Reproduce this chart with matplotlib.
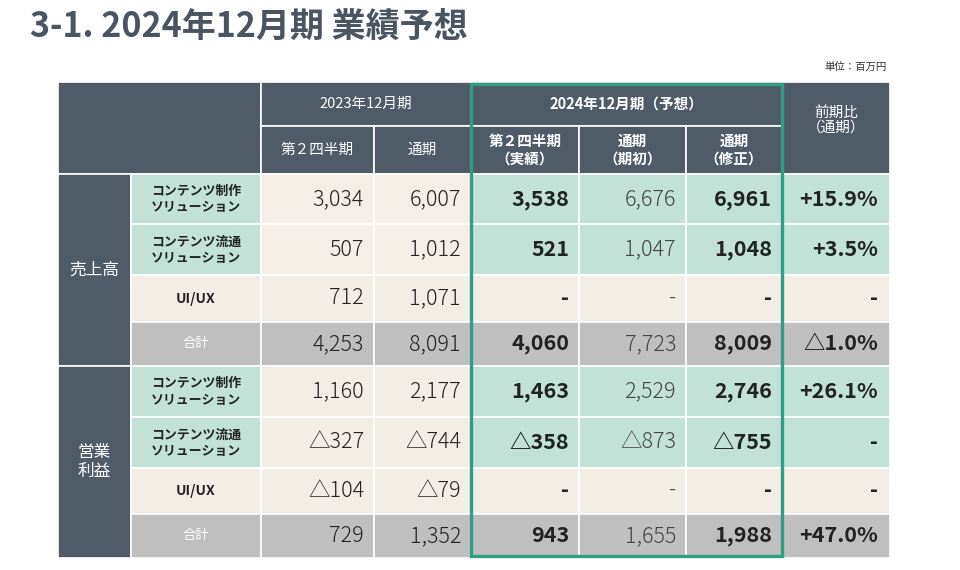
import matplotlib
matplotlib.use("Agg")
import matplotlib.pyplot as plt
from matplotlib.patches import Rectangle

plt.rcParams['font.family'] = ['Noto Sans CJK JP', 'DejaVu Sans']

# --- data (unit: million yen) ---
groups = ["売上高", "営業\n利益"]
segments = ["コンテンツ制作\nソリューション", "コンテンツ流通\nソリューション", "UI/UX", "合計"]
col_headers = ["第２四半期", "通期", "第２四半期\n（実績）", "通期\n（期初）", "通期\n（修正）"]

sales_2023_q2 = [3034, 507, 712, 4253]
sales_2023_fy = [6007, 1012, 1071, 8091]
sales_2024_q2 = [3538, 521, None, 4060]
sales_2024_init = [6676, 1047, None, 7723]
sales_2024_rev = [6961, 1048, None, 8009]
sales_yoy = [15.9, 3.5, None, -1.0]

op_2023_q2 = [1160, -327, -104, 729]
op_2023_fy = [2177, -744, -79, 1352]
op_2024_q2 = [1463, -358, None, 943]
op_2024_init = [2529, -873, None, 1655]
op_2024_rev = [2746, -755, None, 1988]
op_yoy = [26.1, None, None, 47.0]

# --- colours ---
HEAD = "#4f5b67"
GREEN = "#c2e2d8"
BEIGE = "#f3eee5"
PINK = "#f5eee6"
GRAY = "#bfbfbf"
FRAME = "#2f9e85"
TXT = "#222222"


def fmt_num(v):
    if v is None:
        return "-"
    if v < 0:
        return "△{:,}".format(-v)
    return "{:,}".format(v)


def fmt_pct(v):
    if v is None:
        return "-"
    if v < 0:
        return "△{:.1f}%".format(-v)
    return "+{:.1f}%".format(v)


fig = plt.figure(figsize=(9.6, 5.7), dpi=100)
ax = fig.add_axes([0, 0, 1, 1])
ax.set_xlim(0, 960)
ax.set_ylim(570, 0)
ax.axis("off")

# layout (pixels)
xs = [58, 131, 261, 374, 471, 579, 686, 782, 890]
y_head = [82, 126, 174]
row_edges = [[174, 224, 275, 322, 366], [366, 417, 468, 514, 558]]


def cell(x0, x1, y0, y1, color):
    ax.add_patch(Rectangle((x0, y0), x1 - x0, y1 - y0, facecolor=color,
                           edgecolor="white", linewidth=1.2))


ax.text(30, 26, "3-1. 2024年12月期 業績予想", fontsize=24.5, fontweight="bold",
        color="#4a5561", va="center", ha="left")
ax.text(887, 67, "単位：百万円", fontsize=7.5, color="#333333", ha="right", va="center")

# header
cell(xs[0], xs[2], y_head[0], y_head[2], HEAD)
cell(xs[2], xs[4], y_head[0], y_head[1], HEAD)
cell(xs[4], xs[7], y_head[0], y_head[1], HEAD)
cell(xs[7], xs[8], y_head[0], y_head[2], HEAD)
for i in range(5):
    cell(xs[2 + i], xs[3 + i], y_head[1], y_head[2], HEAD)
    ax.text((xs[2 + i] + xs[3 + i]) / 2, (y_head[1] + y_head[2]) / 2, col_headers[i],
            fontsize=10.5, color="white", ha="center", va="center", linespacing=1.1,
            fontweight="bold" if i >= 2 else "normal")
ax.text((xs[2] + xs[4]) / 2, (y_head[0] + y_head[1]) / 2, "2023年12月期",
        fontsize=10.5, color="white", ha="center", va="center")
ax.text((xs[4] + xs[7]) / 2, (y_head[0] + y_head[1]) / 2, "2024年12月期（予想）",
        fontsize=10.5, color="white", ha="center", va="center", fontweight="bold")
ax.text((xs[7] + xs[8]) / 2, (y_head[0] + y_head[2]) / 2 - 8, "前期比\n（通期）",
        fontsize=10.5, color="white", ha="center", va="center", linespacing=1.1)

blocks = [
    (sales_2023_q2, sales_2023_fy, sales_2024_q2, sales_2024_init, sales_2024_rev, sales_yoy),
    (op_2023_q2, op_2023_fy, op_2024_q2, op_2024_init, op_2024_rev, op_yoy),
]

for g, (q23, fy23, q24, in24, rv24, yoy) in enumerate(blocks):
    ys = row_edges[g]
    cell(xs[0], xs[1], ys[0], ys[-1], HEAD)
    ax.text((xs[0] + xs[1]) / 2, (ys[0] + ys[-1]) / 2, groups[g], fontsize=12,
            color="white", ha="center", va="center", linespacing=1.1)
    for r in range(4):
        y0, y1 = ys[r], ys[r + 1]
        yc = (y0 + y1) / 2
        is_total = r == 3
        is_seg = r < 2
        lab_bg = GRAY if is_total else (GREEN if is_seg else BEIGE)
        old_bg = GRAY if is_total else (PINK if (is_seg and g == 0) else BEIGE)
        cell(xs[1], xs[2], y0, y1, lab_bg)
        if is_total:
            ax.text((xs[1] + xs[2]) / 2, yc, segments[r], fontsize=9.5, color="white",
                    ha="center", va="center")
        else:
            ax.text((xs[1] + xs[2]) / 2, yc, segments[r], fontsize=9.3 if is_seg else 10,
                    color=TXT, ha="center", va="center", fontweight="bold",
                    linespacing=1.2)
        vals = [q23[r], fy23[r], q24[r], in24[r], rv24[r]]
        for c in range(5):
            bg = old_bg if c < 2 else lab_bg
            cell(xs[2 + c], xs[3 + c], y0, y1, bg)
            bold = c in (2, 4)
            color = "#444444" if c == 3 else TXT
            ax.text(xs[3 + c] - 10, yc, fmt_num(vals[c]), fontsize=15.5, color=color,
                    ha="right", va="center",
                    fontweight="bold" if bold else "light")
        cell(xs[7], xs[8], y0, y1, lab_bg)
        ax.text(xs[8] - 12, yc, fmt_pct(yoy[r]), fontsize=15.5, color=TXT,
                ha="right", va="center", fontweight="bold")

# green frame around 2024 forecast
ax.add_patch(Rectangle((xs[4], 84), xs[7] - xs[4], 472, facecolor="none",
                       edgecolor=FRAME, linewidth=2.4, zorder=5))

fig.savefig("out.png", dpi=100)
